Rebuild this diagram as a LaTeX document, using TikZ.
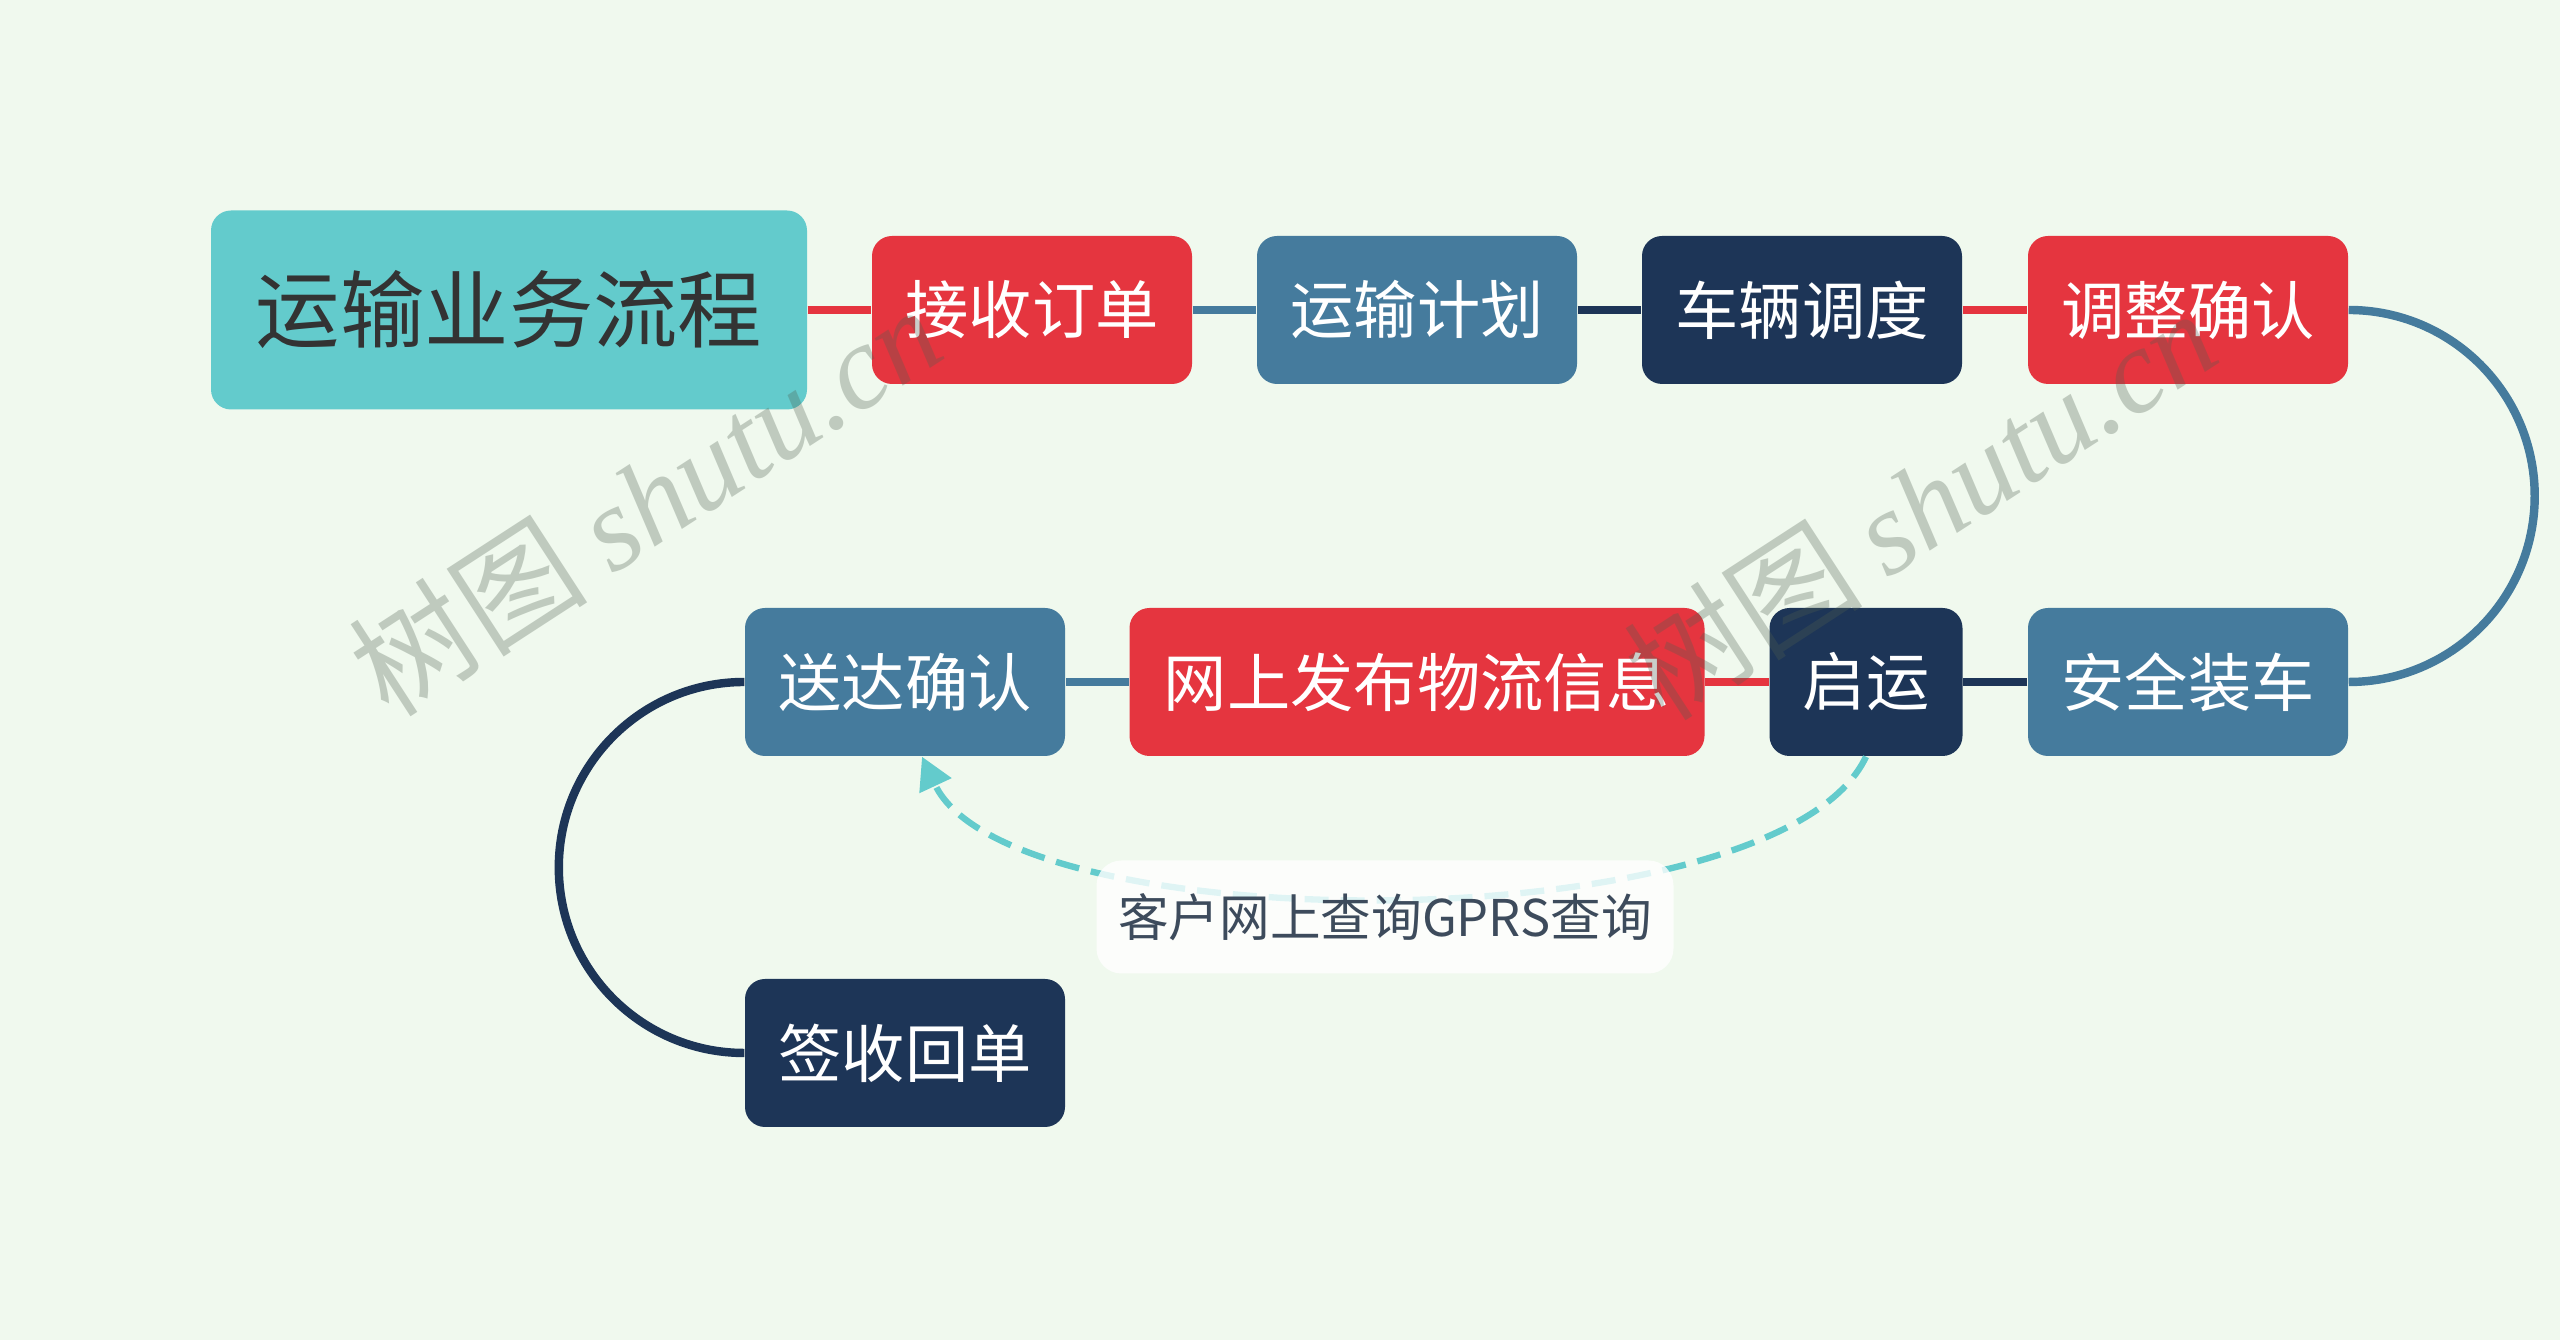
\documentclass[tikz,border=0pt]{standalone}
\usepackage{fontspec}
\setmainfont{Noto Sans CJK SC}
\newfontfamily\wmfont{Liberation Serif}
\usepackage{xcolor}
\usepackage{tikz}
\usetikzlibrary{arrows.meta}
\definecolor{bgcol}{HTML}{F0F9EE}
\definecolor{tealc}{HTML}{63CBCC}
\definecolor{redc}{HTML}{E5353F}
\definecolor{bluec}{HTML}{457B9D}
\definecolor{navyc}{HTML}{1D3557}
\definecolor{labelc}{HTML}{3D4B5C}
\definecolor{wmcol}{HTML}{4F5F50}
\tikzset{
    box/.style={rounded corners=0.2cm, inner sep=0pt, minimum width=3.2cm,
        minimum height=1.48cm, text=white, font=\fontsize{18}{20}\selectfont},
    redbox/.style={box, fill=redc},
    bluebox/.style={box, fill=bluec},
    navybox/.style={box, fill=navyc},
    link/.style={line width=2.4pt},
    watermark/.style={rotate=33, text=wmcol, text opacity=0.3,
        font=\fontsize{34}{36}\selectfont},
}

\begin{document}
\begin{tikzpicture}
    \fill[bgcol] (0,0) rectangle (25.6,13.4);
    % top row, left to right
    \node[box, fill=tealc, text=black!80, minimum width=5.96cm, minimum height=1.99cm,
        font=\fontsize{24}{26}\selectfont] (root) at (5.09,10.30) {运输业务流程};
    \node[redbox] (jsdd) at (10.32,10.30) {接收订单};
    \node[bluebox] (ysjh) at (14.17,10.30) {运输计划};
    \node[navybox] (cldd) at (18.02,10.30) {车辆调度};
    \node[redbox] (tzqr) at (21.88,10.30) {调整确认};
    % bottom row, right to left
    \node[bluebox] (aqzc) at (21.88,6.58) {安全装车};
    \node[navybox, minimum width=1.93cm] (qy) at (18.66,6.58) {启运};
    \node[redbox, minimum width=5.75cm] (wsfb) at (14.17,6.58) {网上发布物流信息};
    \node[bluebox] (sdqr) at (9.05,6.58) {送达确认};
    \node[navybox] (qshd) at (9.05,2.87) {签收回单};

    \draw[link, redc] (root) -- (jsdd);
    \draw[link, bluec] (jsdd) -- (ysjh);
    \draw[link, navyc] (ysjh) -- (cldd);
    \draw[link, redc] (cldd) -- (tzqr);
    \draw[link, bluec] (tzqr.east) arc[start angle=90, end angle=-90, radius=1.86];
    \draw[link, navyc] (aqzc) -- (qy);
    \draw[link, redc] (qy) -- (wsfb);
    \draw[link, bluec] (wsfb) -- (sdqr);
    \draw[link, navyc] (sdqr.west) arc[start angle=90, end angle=270, radius=1.855];

    % customer query link
    \draw[tealc, line width=1.8pt, dash pattern=on 0.24cm off 0.12cm,
        -{Triangle[width=0.34cm, length=0.32cm]}]
        (qy.south) to[out=-115, in=-65, looseness=0.56] ([xshift=0.17cm]sdqr.south);
    \node[fill=white, fill opacity=0.8, text opacity=1, text=labelc, rounded corners=0.25cm,
        inner sep=0pt, minimum width=5.77cm, minimum height=1.13cm,
        font=\fontsize{14.4}{16}\selectfont] (query) at (13.85,4.23) {客户网上查询GPRS查询};

    \node[watermark] (wm1) at (6.45,8.40) {树图 {\wmfont\itshape shutu.cn}};
    \node[watermark] (wm2) at (19.20,8.36) {树图 {\wmfont\itshape shutu.cn}};
\end{tikzpicture}
\end{document}
